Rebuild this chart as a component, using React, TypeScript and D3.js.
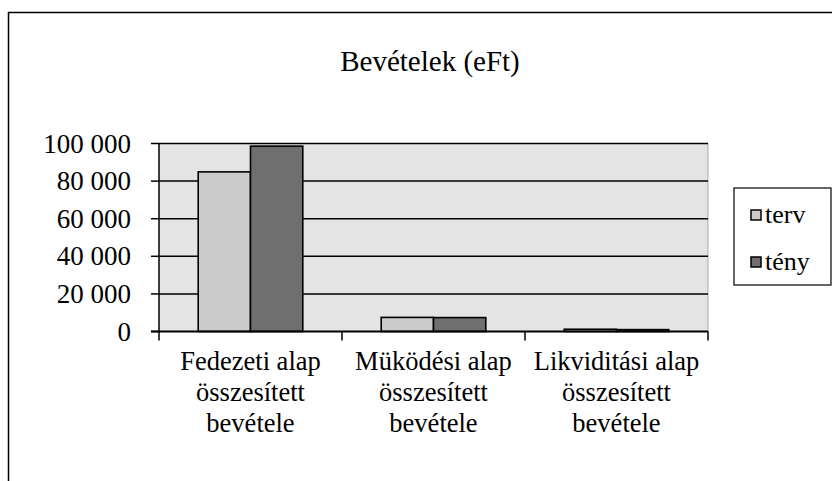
import React from "react";
import * as d3 from "d3";

const categories = [
  ["Fedezeti alap", "összesített", "bevétele"],
  ["Müködési alap", "összesített", "bevétele"],
  ["Likviditási alap", "összesített", "bevétele"],
];
const seriesNames = ["terv", "tény"];
const tervValues = [84900, 7500, 1200];
const tenyValues = [98600, 7400, 1000];
const yTickValues = [0, 20000, 40000, 60000, 80000, 100000];
const title = "Bevételek (eFt)";

const W = 832;
const H = 481;
const plot = { left: 159, right: 708, top: 143.5, bottom: 331.5 };
const colors = { bg: "#e4e4e4", terv: "#cbcbcb", teny: "#6f6f6f" };

function T(props: any) {
  const { children, ...rest } = props;
  return (
    <text fontFamily="Liberation Serif" style={{ fontFamily: "Liberation Serif" }} fill="#000" {...rest}>
      {children}
    </text>
  );
}

export default function App() {
  const x0 = d3
    .scaleBand<number>()
    .domain(categories.map((_, i) => i))
    .range([plot.left, plot.right])
    .paddingInner(0)
    .paddingOuter(0);
  const bw = x0.bandwidth();
  const gap = (bw * 0.75) / 3.5;
  const x1 = d3.scaleBand<string>().domain(seriesNames).range([gap, bw - gap]).padding(0);
  const y = d3.scaleLinear().domain([0, 100000]).range([plot.bottom, plot.top]);
  const fmt = (v: number) => d3.format(",")(v).replace(/,/g, " ");
  const data = [tervValues, tenyValues];
  const fills = [colors.terv, colors.teny];

  return (
    <svg width={W} height={H} style={{ position: "absolute", left: 0, top: 0, background: "#fff" }}>
      <style>{`text { font-family: "Liberation Serif", "Times New Roman", serif; }`}</style>
      {/* outer frame */}
      <line x1={8.5} y1={12} x2={8.5} y2={H} stroke="#000" strokeWidth={1.5} />
      <line x1={8} y1={12.5} x2={W} y2={12.5} stroke="#000" strokeWidth={1.5} />

      <T x={430} y={71} textAnchor="middle" fontSize={29}>
        {title}
      </T>

      {/* plot area */}
      <rect
        x={plot.left}
        y={plot.top}
        width={plot.right - plot.left}
        height={plot.bottom - plot.top}
        fill={colors.bg}
      />
      <line
        x1={plot.right}
        y1={plot.top}
        x2={plot.right}
        y2={plot.bottom}
        stroke="#666"
        strokeWidth={1}
        strokeDasharray="1 1"
      />

      {/* gridlines and y labels */}
      {yTickValues.map((v) => (
        <g key={v}>
          {v > 0 && (
            <line x1={plot.left} x2={plot.right} y1={y(v)} y2={y(v)} stroke="#000" strokeWidth={1.5} />
          )}
          <line x1={plot.left - 8} x2={plot.left} y1={y(v)} y2={y(v)} stroke="#000" strokeWidth={1.5} />
          <T x={131} y={y(v) + 9} textAnchor="end" fontSize={27}>
            {fmt(v)}
          </T>
        </g>
      ))}

      {/* bars */}
      {categories.map((_, ci) =>
        seriesNames.map((s, si) => {
          const v = data[si][ci];
          const bx = (x0(ci) as number) + (x1(s) as number);
          return (
            <rect
              key={`${ci}-${s}`}
              x={bx}
              y={y(v)}
              width={x1.bandwidth()}
              height={plot.bottom - y(v)}
              fill={fills[si]}
              stroke="#000"
              strokeWidth={1.6}
            />
          );
        })
      )}

      {/* axes */}
      <line x1={plot.left} x2={plot.left} y1={plot.top} y2={plot.bottom} stroke="#000" strokeWidth={1.5} />
      <line x1={plot.left - 8} x2={plot.right} y1={plot.bottom} y2={plot.bottom} stroke="#000" strokeWidth={1.8} />
      {[0, 1, 2, 3].map((i) => {
        const xv = i < 3 ? (x0(i) as number) : plot.right;
        return <line key={i} x1={xv} x2={xv} y1={plot.bottom} y2={plot.bottom + 9} stroke="#000" strokeWidth={1.5} />;
      })}

      {/* category labels */}
      {categories.map((lines, ci) =>
        lines.map((l, li) => (
          <T
            key={`${ci}-${li}`}
            x={(x0(ci) as number) + bw / 2}
            y={370 + li * 31}
            textAnchor="middle"
            fontSize={26.5}
          >
            {l}
          </T>
        ))
      )}

      {/* legend */}
      <rect x={734} y={188} width={97} height={97} fill="#fff" stroke="#000" strokeWidth={1.2} />
      {seriesNames.map((s, si) => (
        <g key={s}>
          <rect
            x={751}
            y={210 + si * 47}
            width={10}
            height={10}
            fill={fills[si]}
            stroke="#000"
            strokeWidth={1.5}
          />
          <T x={765} y={223 + si * 47} fontSize={26}>
            {s}
          </T>
        </g>
      ))}
    </svg>
  );
}
